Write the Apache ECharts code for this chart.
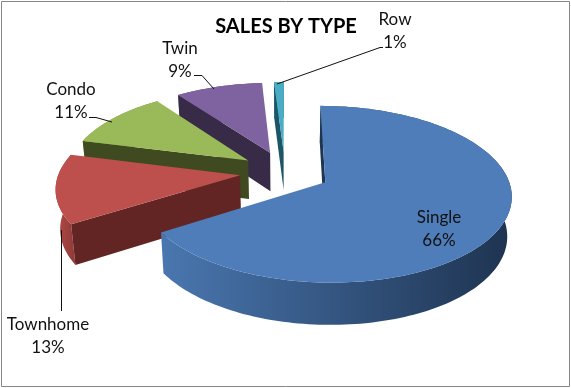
<!DOCTYPE html>
<html>
<head>
<meta charset="utf-8">
<style>
  html, body { margin: 0; padding: 0; background: #fff; }
  #main { width: 571px; height: 388px; }
</style>
<script src="https://cdn.jsdelivr.net/npm/echarts@6/dist/echarts.min.js"></script>
</head>
<body>
<div id="main"></div>
<script>
var categories = ['Single', 'Townhome', 'Condo', 'Twin', 'Row'];
var shares = [66, 13, 11, 9, 1];

// face colours, same order as categories
var topColors = ['#4e7db9', '#bd504c', '#9aba59', '#7f63a1', '#4bacc6'];
var edgeColors = ['#1d3552', '#632523', '#404a20', '#372b47', '#1c5566'];
var rimLeft = ['#4a77b0', '#b34b47', '#8aa750', '#72598f', '#43a0b8'];
var rimRight = ['#1e3350', '#8e3a37', '#5f7433', '#4d3b61', '#276d80'];

// where the texts and their leader lines sit
var labelPos = [[439, 229], [48, 336], [71, 101], [180, 60], [395, 31]];
var leaders = [
  null,
  [[61.5, 311], [61.5, 230]],
  [[89, 117.5], [96, 117.5], [112, 122]],
  [[194, 75.5], [202, 75.5], [214, 89]],
  [[383, 47.5], [380, 47.5], [277, 84]]
];

// projection of the tilted disc
var cx = 285, cy = 172, radX = 181, radY = 84, persp = 0.133, thick = 39, explode = 0.25;
var lowShrink = 0.98; // underside looks a bit narrower from above

var total = shares.reduce(function (a, b) { return a + b; }, 0);

function project(u, v, drop) {
  var p = 1 / (1 + persp * v);
  var x = radX * u * p;
  var y = cy - radY * v * p;
  if (drop) {
    x = x * lowShrink;
    y = y + thick * Math.sqrt(p);
  }
  return [cx + x, y];
}

function sliceFaces(idx, value) {
  var before = 0;
  for (var i = 0; i < idx; i++) before += shares[i];
  var a0 = before / total * Math.PI * 2;
  var a1 = a0 + value / total * Math.PI * 2;
  var mid = (a0 + a1) / 2;
  var ou = explode * Math.sin(mid), ov = explode * Math.cos(mid);

  var steps = Math.max(4, Math.ceil((a1 - a0) * 40));
  var top = [], bottom = [];
  for (var s = 0; s <= steps; s++) {
    var a = a0 + (a1 - a0) * s / steps;
    var u = ou + Math.sin(a), v = ov + Math.cos(a);
    top.push(project(u, v, false));
    bottom.push(project(u, v, true));
  }
  return {
    apex: project(ou, ov, false),
    apexLow: project(ou, ov, true),
    top: top,
    bottom: bottom
  };
}

function renderSlice(params, api) {
  var idx = params.dataIndex;
  var value = api.value(0);
  var f = sliceFaces(idx, value);
  var layer = (categories.length - idx) * 10;
  var kids = [];

  // rim, then the cut face we can see, the top goes over them
  kids.push({
    type: 'polygon', z2: layer,
    shape: { points: f.top.concat(f.bottom.slice().reverse()) },
    style: {
      fill: new echarts.graphic.LinearGradient(0, 0, 1, 0, [
        { offset: 0, color: rimLeft[idx] },
        { offset: 1, color: rimRight[idx] }
      ])
    }
  });
  kids.push({
    type: 'polygon', z2: layer + 1,
    shape: { points: [f.apex, f.top[0], f.bottom[0], f.apexLow] },
    style: { fill: edgeColors[idx] }
  });
  kids.push({
    type: 'polygon', z2: layer + 2,
    shape: { points: [f.apex].concat(f.top) },
    style: { fill: topColors[idx] }
  });

  if (leaders[idx]) {
    kids.push({
      type: 'polyline', z2: 200,
      shape: { points: leaders[idx] },
      style: { stroke: '#111', lineWidth: 1, fill: null }
    });
  }
  kids.push({
    type: 'text', z2: 201,
    style: {
      x: labelPos[idx][0], y: labelPos[idx][1],
      text: categories[idx] + '\n' + value + '%',
      font: '17px Lato',
      lineHeight: 23,
      fill: '#111',
      align: 'center',
      verticalAlign: 'middle'
    }
  });
  return { type: 'group', children: kids };
}

var chart = echarts.init(document.getElementById('main'), null, { renderer: 'canvas' });
chart.setOption({
  animation: false,
  backgroundColor: '#fff',
  title: {
    text: 'SALES BY TYPE',
    left: 281, top: 22, textAlign: 'center', textVerticalAlign: 'middle',
    textStyle: { fontFamily: 'Lato', fontWeight: 'bold', fontSize: 20, color: '#000' }
  },
  graphic: [{
    type: 'rect',
    shape: { x: 1.5, y: 1.5, width: 568, height: 385 },
    style: { fill: null, stroke: '#868686', lineWidth: 1 },
    silent: true
  }],
  series: [{
    type: 'custom',
    coordinateSystem: 'none',
    renderItem: renderSlice,
    data: shares.map(function (v) { return [v]; })
  }]
});
</script>
</body>
</html>
